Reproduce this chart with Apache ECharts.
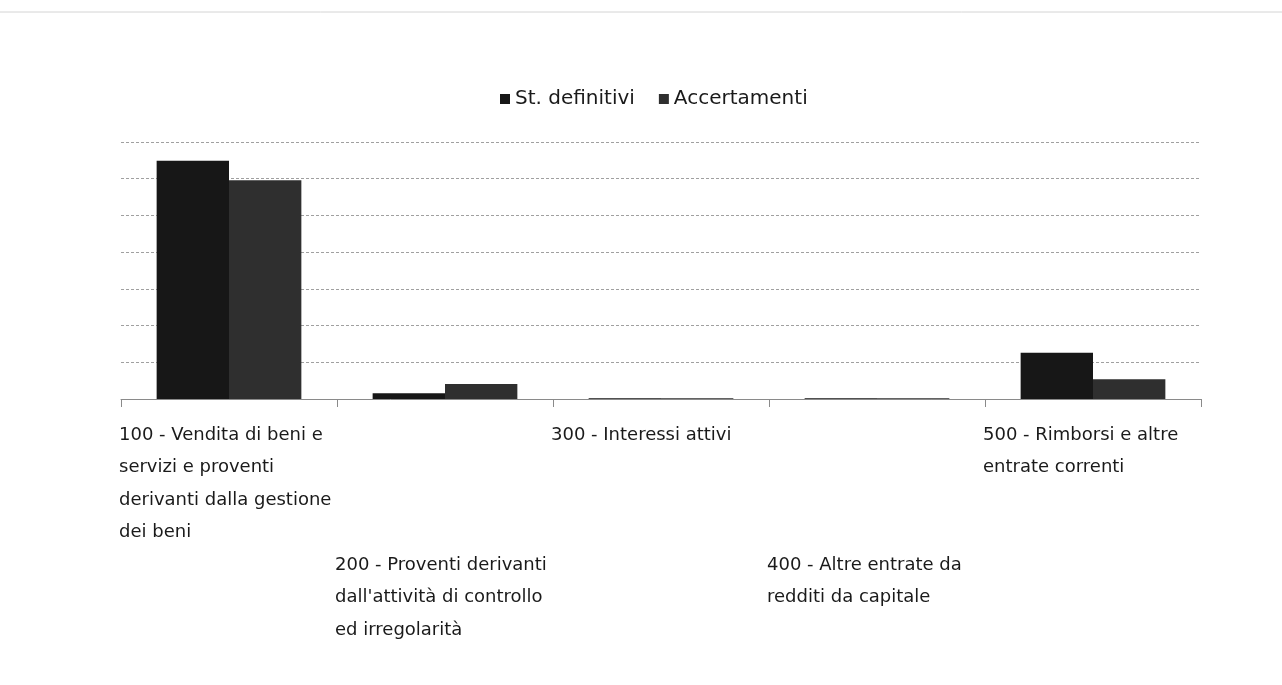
<!DOCTYPE html>
<html>
<head>
<meta charset="utf-8">
<title>Entrate correnti</title>
<script src="https://cdn.jsdelivr.net/npm/echarts@6/dist/echarts.min.js"></script>
<style>
  html, body { margin: 0; padding: 0; background: #fff; }
  #chart { width: 1282px; height: 685px; }
</style>
</head>
<body>
<div id="chart"></div>
<script>
// categorie (titoli di entrata)
var categories = [
  "100 - Vendita di beni e\nservizi e proventi\nderivanti dalla gestione\ndei beni",
  "200 - Proventi derivanti\ndall'attività di controllo\ned irregolarità",
  "300 - Interessi attivi",
  "400 - Altre entrate da\nredditi da capitale",
  "500 - Rimborsi e altre\nentrate correnti"
];
var seriesNames = ["St. definitivi", "Accertamenti"];
// valori (unità = una linea di griglia)
var stDefinitivi = [6.49, 0.16, 0.02, 0.02, 1.26];
var accertamenti = [5.96, 0.41, 0.02, 0.02, 0.54];

var chart = echarts.init(document.getElementById("chart"));
var font = "DejaVu Sans";

var option = {
  backgroundColor: "#fff",
  animation: false,
  textStyle: { fontFamily: font },
  legend: {
    top: 84,
    left: 495,
    itemWidth: 10,
    itemHeight: 10,
    itemGap: 24,
    icon: "rect",
    textStyle: { fontFamily: font, fontSize: 20, color: "#1a1a1a" },
    data: seriesNames
  },
  grid: { left: 121, right: 81, top: 142, bottom: 286 },
  xAxis: {
    type: "category",
    data: categories,
    axisLine: { lineStyle: { color: "#8a8a8a", width: 1 } },
    axisTick: { show: true, length: 8, lineStyle: { color: "#8a8a8a" } },
    axisLabel: {
      interval: 0,
      margin: 20,
      align: "center",
      formatter: function (val, idx) {
        var lines = val.split("\n").map(function (l) { return "{a|" + l + "}"; });
        if (idx % 2 === 1) {
          lines = ["{a| }", "{a| }", "{a| }", "{a| }"].concat(lines);
        }
        return lines.join("\n");
      },
      rich: {
        a: {
          fontFamily: font,
          fontSize: 18,
          color: "#1a1a1a",
          lineHeight: 32.5,
          width: 220,
          align: "left"
        }
      }
    }
  },
  yAxis: {
    type: "value",
    min: 0,
    max: 7,
    interval: 1,
    axisLine: { show: false },
    axisTick: { show: false },
    axisLabel: { show: false },
    splitLine: { lineStyle: { color: "#a0a0a0", type: [3, 2], width: 1 } }
  },
  series: [
    {
      name: seriesNames[0],
      type: "bar",
      data: stDefinitivi,
      barGap: "0%",
      barCategoryGap: "33%",
      itemStyle: { color: "#171717" }
    },
    {
      name: seriesNames[1],
      type: "bar",
      data: accertamenti,
      itemStyle: { color: "#2f2f2f" }
    }
  ],
  graphic: [
    {
      type: "line",
      shape: { x1: 0, y1: 12, x2: 1282, y2: 12 },
      style: { stroke: "#d4d4d4", lineWidth: 1 },
      silent: true
    }
  ]
};

chart.setOption(option);
</script>
</body>
</html>
